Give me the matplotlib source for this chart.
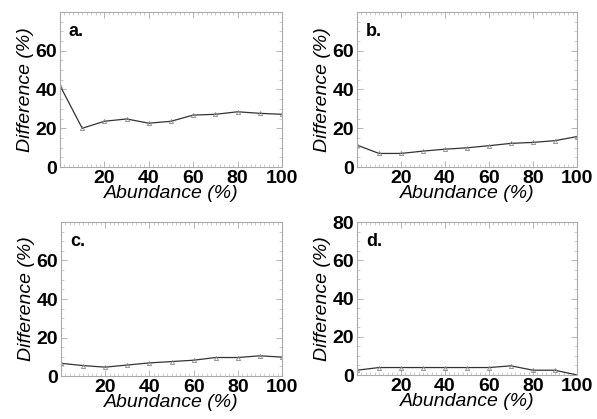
import matplotlib
matplotlib.use("Agg")
import matplotlib.pyplot as plt
from matplotlib.ticker import MultipleLocator, FixedLocator

abundance = [0, 10, 20, 30, 40, 50, 60, 70, 80, 90, 100]
diff_a = [42, 20, 23.6, 24.8, 22.6, 23.6, 26.8, 27.2, 28.5, 27.7, 27.2]
diff_b = [11.3, 7, 7, 8.2, 9.2, 9.9, 11, 12.2, 12.7, 13.6, 15.7]
diff_c = [6.6, 5.4, 4.6, 5.7, 6.8, 7.5, 8.2, 9.6, 9.6, 10.5, 9.8]
diff_d = [2.5, 3.9, 3.9, 3.9, 3.9, 3.9, 3.9, 4.8, 2.5, 2.5, 0]
panel_labels = ["a.", "b.", "c.", "d."]
xtick_labels = ["20", "40", "60", "80", "100"]

plt.rcParams['font.family'] = ['Liberation Sans', 'DejaVu Sans']

fig = plt.figure(figsize=(5.97, 4.19), dpi=100)
W, H = 597, 419
boxes = [(60, 12, 282, 167), (357, 12, 577, 167), (61, 222, 282, 376), (357, 222, 577, 375)]
series = [diff_a, diff_b, diff_c, diff_d]
ytick_sets = [[0, 20, 40, 60], [0, 20, 40, 60], [0, 20, 40, 60], [0, 20, 40, 60, 80]]

for (x0, y0, x1, y1), ys, lab, yt in zip(boxes, series, panel_labels, ytick_sets):
    ax = fig.add_axes([x0 / W, 1 - y1 / H, (x1 - x0) / W, (y1 - y0) / H])
    ax.plot(abundance, ys, color='#333333', lw=0.9, marker='^', ms=3,
            mfc='none', mec='#888888', mew=0.6)
    ax.set_xlim(0, 100)
    ax.set_ylim(0, 80)
    ax.xaxis.set_major_locator(FixedLocator([20, 40, 60, 80, 100]))
    ax.set_xticklabels(xtick_labels)
    ax.yaxis.set_major_locator(FixedLocator(yt))
    ax.set_yticklabels([str(v) for v in yt])
    ax.xaxis.set_minor_locator(MultipleLocator(2))
    ax.yaxis.set_minor_locator(MultipleLocator(5))
    ax.tick_params(which='both', direction='in', top=True, right=True, color='#aaaaaa')
    ax.tick_params(which='major', length=4, width=0.6, labelsize=14, pad=2)
    ax.tick_params(which='minor', length=2, width=0.4)
    for s in ax.spines.values():
        s.set_color('#aaaaaa')
        s.set_linewidth(0.8)
    for t in ax.get_xticklabels() + ax.get_yticklabels():
        t.set_fontweight('bold')
    ax.set_xlabel("Abundance (%)", fontsize=14, style='italic', labelpad=-1)
    ax.set_ylabel("Difference (%)", fontsize=14, style='italic', labelpad=1)
    ax.text(0.04, 0.93, lab, transform=ax.transAxes, fontsize=13,
            fontweight='bold', va='top', ha='left')

fig.savefig("out.png", dpi=100)
